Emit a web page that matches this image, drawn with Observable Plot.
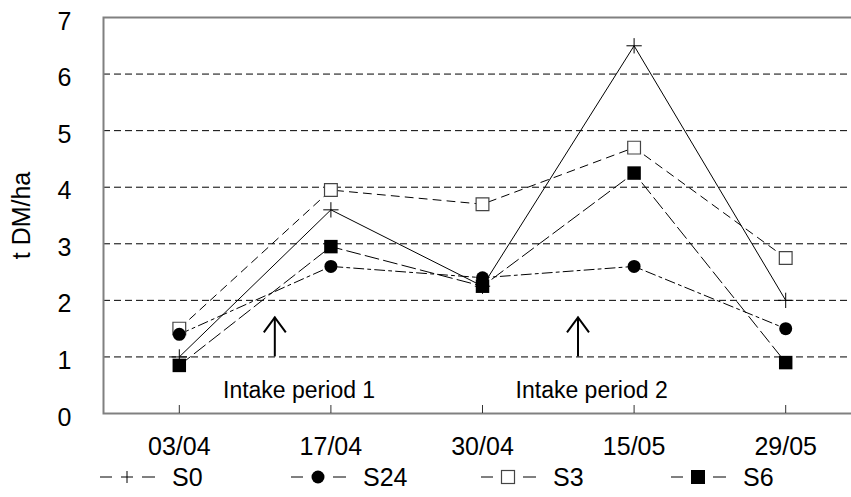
<!DOCTYPE html>
<html><head><meta charset="utf-8">
<script src="https://cdn.jsdelivr.net/npm/d3@7"></script>
<script src="https://cdn.jsdelivr.net/npm/@observablehq/plot@0.6"></script>
<style>
body{margin:0;background:#fff;font-family:"Liberation Sans",Arial,sans-serif;}
#wrap{width:851px;overflow:hidden;}
#chart svg{overflow:hidden;display:block;}
#legend{position:relative;height:27px;width:851px;}
.item{position:absolute;top:0;height:27px;}
.item svg{position:absolute;top:-3px;left:0;}
.item span{position:absolute;top:-5px;font-size:25px;line-height:25px;white-space:nowrap;}
</style></head><body><div id="wrap"><div id="chart"></div><div id="legend"></div></div>
<script>
const dates = ["03/04", "17/04", "30/04", "15/05", "29/05"];
const seriesNames = ["S0", "S24", "S3", "S6"];
const S0 = [1.0, 3.6, 2.25, 6.5, 2.0];
const S24 = [1.4, 2.6, 2.4, 2.6, 1.5];
const S3 = [1.5, 3.95, 3.7, 4.7, 2.75];
const S6 = [0.85, 2.95, 2.25, 4.25, 0.9];
const yTicks = [0, 1, 2, 3, 4, 5, 6, 7];
const gridValues = [1, 2, 3, 4, 5, 6];
const arrowX = [0.63, 2.63];
const arrowFrom = [1, 1];
const arrowTo = [1.7, 1.7];
const periodLabels = ["Intake period 1", "Intake period 2"];
const periodX = [0.79, 2.72];
const periodY = [0.4, 0.4];

const idx = dates.map((d, i) => i);
const seriesValues = {S0, S24, S3, S6};
const rows = s => seriesValues[s].map((v, i) => ({i, v, s}));
const arrows = arrowX.map((x, k) => ({x, y1: arrowFrom[k], y2: arrowTo[k]}));
const periods = periodLabels.map((t, k) => ({t, x: periodX[k], y: periodY[k]}));

// open arrowhead (chevron) symbol, tip at the point
const chevron = {
  draw(context) {
    context.moveTo(-11, 15);
    context.lineTo(0, 0);
    context.lineTo(11, 15);
  }
};

const lineStyle = {
  S0: {strokeDasharray: null},
  S24: {strokeDasharray: "10,4,3,4"},
  S3: {strokeDasharray: "8,6"},
  S6: {strokeDasharray: "14,5"}
};
const dotStyle = {
  S0: {symbol: "plus", r: 5, stroke: "black", fill: "none", strokeWidth: 1},
  S3: {symbol: "square", r: 7.2, stroke: "#444", fill: "white", strokeWidth: 1.2},
  S24: {symbol: "circle", r: 6.5, fill: "black", stroke: "none"},
  S6: {symbol: "square", r: 7.6, fill: "black", stroke: "none"}
};

const chart = Plot.plot({
  width: 851,
  height: 470,
  marginLeft: 103,
  marginRight: -10,
  marginTop: 17,
  marginBottom: 57,
  style: {fontFamily: "Liberation Sans, Arial, sans-serif", fontSize: "25px", background: "white", color: "black"},
  x: {type: "linear", domain: [-0.5, 4.5]},
  y: {domain: [0, 7]},
  marks: [
    Plot.ruleY(gridValues, {stroke: "black", strokeDasharray: "7,4", strokeWidth: 1}),
    Plot.frame({stroke: "#808080", strokeWidth: 2}),
    Plot.tickX(idx, {x: d => d, insetTop: 388, stroke: "#333", strokeWidth: 1}),
    ...seriesNames.map(s => Plot.line(rows(s), {x: "i", y: "v", stroke: "black", strokeWidth: 1, ...lineStyle[s]})),
    ...["S0", "S3", "S24", "S6"].map(s => Plot.dot(rows(s), {x: "i", y: "v", ...dotStyle[s]})),
    Plot.ruleX(arrows, {x: "x", y1: "y1", y2: "y2", stroke: "black", strokeWidth: 2}),
    Plot.dot(arrows, {x: "x", y: "y2", symbol: chevron, stroke: "black", strokeWidth: 2, fill: "none"}),
    Plot.text(periods, {x: "x", y: "y", text: "t", fontSize: 23, fill: "black", textAnchor: "middle"}),
    Plot.axisX(idx, {tickSize: 0, tickPadding: 24, tickFormat: i => dates[i], fontSize: 25, label: null}),
    Plot.axisY(yTicks, {tickSize: 0, tickPadding: 32, fontSize: 25, dy: 4, tickFormat: d => String(d), label: "t DM/ha", labelAnchor: "center", labelArrow: "none", labelOffset: 91})
  ]
});
document.getElementById("chart").appendChild(chart);

// legend
const legendPos = {S0: 100, S24: 291, S3: 481, S6: 671};
const symbolSvg = {
  S0: '<line x1="21" y1="10" x2="33" y2="10" stroke="black"/><line x1="27" y1="4" x2="27" y2="16" stroke="black"/>',
  S24: '<circle cx="27" cy="10" r="6.5" fill="black"/>',
  S3: '<rect x="20.5" y="3.5" width="13" height="13" fill="white" stroke="#444" stroke-width="1.2"/>',
  S6: '<rect x="20" y="3" width="14" height="14" fill="black"/>'
};
const legend = document.getElementById("legend");
seriesNames.forEach(s => {
  const div = document.createElement("div");
  div.className = "item";
  div.style.left = legendPos[s] + "px";
  div.innerHTML = '<svg width="56" height="20"><line x1="0" y1="10" x2="12" y2="10" stroke="black"/><line x1="42" y1="10" x2="55" y2="10" stroke="black"/>' + symbolSvg[s] + '</svg><span style="left:' + 72 + 'px">' + s + '</span>';
  legend.appendChild(div);
});
</script>
</body></html>
